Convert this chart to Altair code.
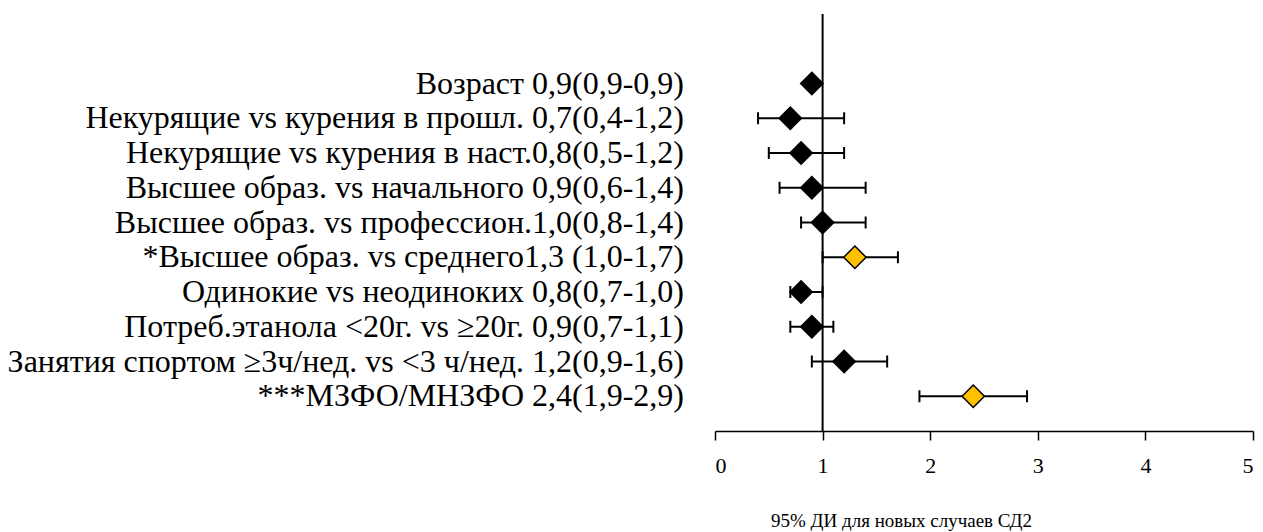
import altair as alt
import pandas as pd

labels = [
    "Возраст 0,9(0,9-0,9)",
    "Некурящие vs курения в прошл. 0,7(0,4-1,2)",
    "Некурящие vs курения в наст.0,8(0,5-1,2)",
    "Высшее образ. vs начального 0,9(0,6-1,4)",
    "Высшее образ. vs профессион.1,0(0,8-1,4)",
    "*Высшее образ. vs среднего1,3 (1,0-1,7)",
    "Одинокие vs неодиноких 0,8(0,7-1,0)",
    "Потреб.этанола <20г. vs \u226520г. 0,9(0,7-1,1)",
    "Занятия спортом \u22653ч/нед. vs <3 ч/нед. 1,2(0,9-1,6)",
    "***МЗФО/МНЗФО 2,4(1,9-2,9)",
]
est = [0.9, 0.7, 0.8, 0.9, 1.0, 1.3, 0.8, 0.9, 1.2, 2.4]
lo = [0.9, 0.4, 0.5, 0.6, 0.8, 1.0, 0.7, 0.7, 0.9, 1.9]
hi = [0.9, 1.2, 1.2, 1.4, 1.4, 1.7, 1.0, 1.1, 1.6, 2.9]
signif = ["no", "no", "no", "no", "no", "yes", "no", "no", "no", "yes"]
x_ticks = [0, 1, 2, 3, 4, 5]

df = pd.DataFrame({
    "label": labels,
    "est": est,
    "lo": lo,
    "hi": hi,
    "sig": signif,
    "row": list(range(1, len(labels) + 1)),
})

FONT = "'Liberation Serif', 'Times New Roman', serif"

xscale = alt.Scale(domain=[0, 5], nice=False, zero=False)
yscale = alt.Scale(domain=[-1, 11], reverse=True, nice=False, zero=False)

base = alt.Chart(df)

x_axis = alt.Axis(
    values=x_ticks, format="d", grid=False, domainColor="black", domainWidth=1.5,
    tickColor="black", tickWidth=1.5, tickSize=9, labelFont=FONT,
    labelFontSize=22, labelColor="black", labelPadding=15,
    title="95% ДИ для новых случаев СД2", titleFont=FONT, titleFontSize=19,
    titleFontWeight="normal", titleColor="black", titleX=186, titleY=95,
    titleAlign="center", titleBaseline="alphabetic",
)

ref = alt.Chart(pd.DataFrame({"x": [1], "y": [-1], "y2": [11]})).mark_rule(
    color="black", strokeWidth=2
).encode(
    x=alt.X("x:Q", scale=xscale, axis=x_axis),
    y=alt.Y("y:Q", scale=yscale, axis=None),
    y2="y2:Q",
)

bars = base.mark_rule(color="black", strokeWidth=2).encode(
    x=alt.X("lo:Q", scale=xscale),
    x2="hi:Q",
    y=alt.Y("row:Q", scale=yscale),
)

caps_lo = base.mark_tick(orient="vertical", size=12, thickness=2, color="black", opacity=1).encode(
    x=alt.X("lo:Q", scale=xscale),
    y=alt.Y("row:Q", scale=yscale),
)
caps_hi = base.mark_tick(orient="vertical", size=12, thickness=2, color="black", opacity=1).encode(
    x=alt.X("hi:Q", scale=xscale),
    y=alt.Y("row:Q", scale=yscale),
)

points = base.mark_point(shape="diamond", size=500, filled=True, stroke="black",
                         strokeWidth=1.5, opacity=1).encode(
    x=alt.X("est:Q", scale=xscale),
    y=alt.Y("row:Q", scale=yscale),
    fill=alt.Fill("sig:N", scale=alt.Scale(domain=["no", "yes"], range=["#000000", "#FFC000"]), legend=None),
)

text = base.mark_text(align="right", baseline="middle", font=FONT, fontSize=32,
                      color="black").encode(
    x=alt.value(-31),
    y=alt.Y("row:Q", scale=yscale),
    text="label:N",
)

chart = alt.layer(ref, bars, caps_lo, caps_hi, points, text).properties(
    width=538, height=417,
    autosize=alt.AutoSizeParams(type="none"),
    padding={"left": 707, "top": 6, "right": 2, "bottom": 101},
).configure(font=FONT).configure_text(font=FONT).configure_view(stroke=None)

chart.save("out.html", embed_options={"renderer": "svg", "actions": False})
